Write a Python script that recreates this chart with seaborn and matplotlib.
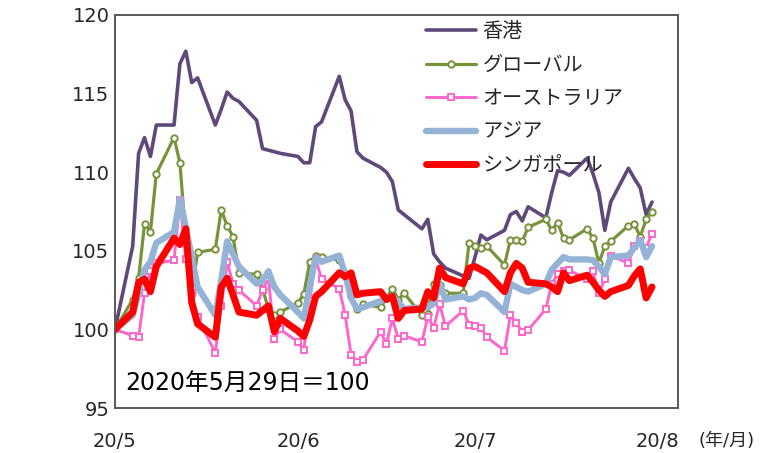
import pandas as pd
import matplotlib
matplotlib.use("Agg")
import matplotlib.pyplot as plt
import seaborn as sns

# business days 2020-05-29 .. 2020-08-28
dates = pd.bdate_range("2020-05-29", "2020-08-28")

hong_kong = [100.0,
             105.3, 111.2, 112.2, 111.0, 113.0,
             113.0, 116.9, 117.7, 115.7, 116.0,
             113.0, 114.0, 115.1, 114.7, 114.5,
             113.3, 111.5, 111.4, 111.3, 111.2,
             111.0, 110.6, 110.6, 112.9, 113.2,
             116.1, 114.6, 113.9, 111.3, 110.9,
             110.3, 110.0, 109.4, 107.6, 107.3,
             106.4, 107.0, 104.8, 104.3, 103.9,
             103.4, 103.25, 104.6, 106.0, 105.7,
             106.3, 107.3, 107.5, 106.9, 107.8,
             107.1, 108.7, 110.1, 110.0, 109.8,
             110.9, 109.9, 108.7, 106.3, 108.1,
             110.25, 109.6, 109.0, 107.3, 108.1]

global_idx = [100.0,
              101.9, 103.25, 106.7, 106.2, 109.9,
              112.2, 110.6, 105.8, 102.3, 104.9,
              105.1, 107.6, 106.6, 105.9, 103.6,
              103.5, 102.6, 101.3, 100.9, 101.1,
              101.7, 102.25, 104.3, 104.7, 104.6,
              104.4, 103.5, 102.1, 101.3, 101.6,
              101.4, 102.0, 102.6, 101.9, 102.3,
              100.9, 101.0, 102.9, 102.8, 102.3,
              102.3, 105.5, 105.3, 105.2, 105.3,
              104.1, 105.7, 105.7, 105.6, 106.5,
              107.0, 106.3, 106.8, 105.8, 105.7,
              106.4, 105.8, 104.2, 105.3, 105.6,
              106.6, 106.7, 105.9, 107.0, 107.5]

australia = [100.0,
             99.6, 99.5, 102.3, 103.7, 104.2,
             104.4, 108.2, 104.5, 102.3, 100.8,
             98.5, 101.5, 104.3, 102.9, 102.5,
             101.5, 102.5, 103.3, 99.4, 100.0,
             99.2, 98.7, 101.8, 104.5, 103.2,
             102.6, 100.9, 98.4, 97.95, 98.05,
             99.85, 99.1, 100.7, 99.4, 99.6,
             99.2, 100.8, 100.1, 101.6, 100.2,
             101.2, 100.3, 100.2, 100.1, 99.5,
             98.65, 100.9, 100.4, 99.85, 99.95,
             101.3, 102.9, 103.5, 103.7, 103.75,
             103.2, 103.7, 102.3, 103.2, 104.7,
             104.2, 105.3, 105.6, 105.2, 106.1]

asia = [100.0,
        100.9, 102.3, 103.8, 104.3, 105.5,
        106.2, 108.3, 106.5, 104.6, 102.7,
        100.9, 103.1, 105.6, 104.8, 104.0,
        102.9, 103.1, 103.7, 102.7, 102.2,
        101.1, 100.7, 102.7, 104.6, 104.3,
        104.7, 103.5, 102.0, 101.3, 101.4,
        101.8, 102.0, 102.1, 101.7, 101.3,
        101.4, 101.4, 101.65, 102.9, 101.9,
        102.1, 101.9, 102.0, 102.3, 102.2,
        101.1, 102.9, 102.7, 102.5, 102.4,
        102.9, 103.8, 104.2, 104.6, 104.45,
        104.45, 104.4, 104.0, 103.5, 104.6,
        104.7, 105.2, 105.7, 104.6, 105.3]

singapore = [100.0,
             101.1, 103.0, 103.2, 102.4, 104.0,
             105.8, 105.4, 106.4, 101.7, 100.35,
             99.5, 102.7, 103.25, 102.2, 101.1,
             100.9, 101.2, 101.5, 99.85, 100.7,
             99.9, 99.55, 100.6, 102.1, 102.4,
             103.6, 103.35, 103.6, 102.2, 102.3,
             102.4, 101.9, 102.1, 100.7, 101.2,
             101.3, 102.4, 102.0, 103.9, 103.3,
             102.9, 103.9, 104.0, 103.8, 103.6,
             102.4, 103.6, 104.2, 103.9, 103.0,
             102.9, 102.7, 102.4, 103.6, 103.1,
             103.45, 103.0, 102.5, 102.1, 102.4,
             102.8, 103.4, 103.85, 102.0, 102.7]

tick_dates = ["2020-05-29", "2020-06-29", "2020-07-29", "2020-08-29"]
tick_labels = ["20/5", "20/6", "20/7", "20/8"]

sns.set_style("white")
plt.rcParams["font.family"] = ["DejaVu Sans", "Noto Sans CJK JP"]

fig = plt.figure(figsize=(7.76, 4.53), dpi=100)
ax = fig.add_axes([115 / 776, 45 / 453, 563 / 776, 393 / 453])

series = [
    ("香港", hong_kong, dict(color="#5F497A", lw=2.6)),
    ("グローバル", global_idx, dict(color="#77933C", lw=2.3, marker="o", markersize=4.6,
                                 markerfacecolor="white", markeredgecolor="#77933C",
                                 markeredgewidth=1.4)),
    ("オーストラリア", australia, dict(color="#FF66CC", lw=2.1, marker="s", markersize=4.4,
                                   markerfacecolor="white", markeredgecolor="#FF66CC",
                                   markeredgewidth=1.4)),
    ("アジア", asia, dict(color="#95B3D7", lw=4.6)),
    ("シンガポール", singapore, dict(color="#FF0000", lw=5.0)),
]
for name, vals, style in series:
    sns.lineplot(x=dates, y=vals, ax=ax, label=name)
    ax.lines[-1].set(linestyle="-", solid_joinstyle="round", **style)

ax.set_ylim(95, 120)
ax.set_yticks([95, 100, 105, 110, 115, 120])
x0 = pd.Timestamp("2020-05-29")
ax.set_xlim(x0, x0 + pd.Timedelta(days=95.4))
ax.set_xticks(pd.to_datetime(tick_dates))
ax.set_xticklabels(tick_labels)
ax.set_xlabel("")
ax.set_ylabel("")

ax.tick_params(axis="y", direction="in", length=5, width=1.2, color="#595959",
               labelsize=14, pad=4, labelcolor="#262626")
ax.tick_params(axis="x", direction="in", length=5, width=1.2, color="#595959",
               labelsize=14, pad=17, labelcolor="#262626")
for sp in ax.spines.values():
    sp.set_visible(True)
    sp.set_color("#595959")
    sp.set_linewidth(1.4)

ax.text(0.018, 0.062, "2020年5月29日＝100", transform=ax.transAxes,
        fontsize=17, color="#000000", va="center", ha="left")
fig.text(698 / 776, 1 - 441 / 453, "(年/月)", fontsize=13, va="center",
         ha="left", color="#262626")

ax.legend(loc="upper left", bbox_to_anchor=(418 / 776, 1 - 14 / 453),
          bbox_transform=fig.transFigure, frameon=False, fontsize=14.5,
          handlelength=2.5, handletextpad=0.3, labelspacing=0.72,
          borderaxespad=0)

fig.savefig("out.png", dpi=100)
